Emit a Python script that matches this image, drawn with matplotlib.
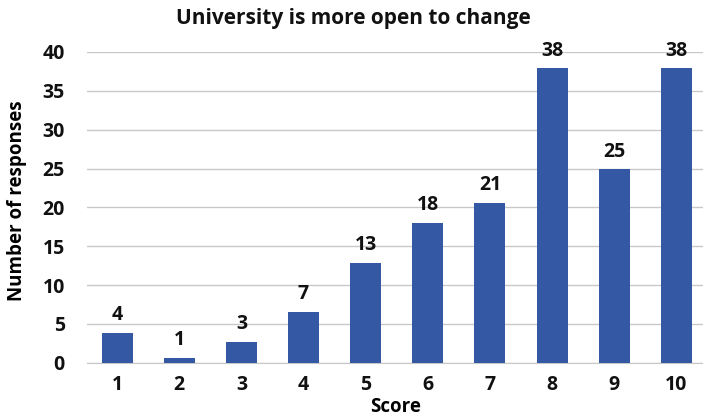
import matplotlib.pyplot as plt

scores = [1, 2, 3, 4, 5, 6, 7, 8, 9, 10]
responses = [4, 1, 3, 7, 13, 18, 21, 38, 25, 38]
bar_heights = [3.9, 0.6, 2.7, 6.6, 12.9, 18.0, 20.6, 37.9, 24.9, 37.9]
yticks = [0, 5, 10, 15, 20, 25, 30, 35, 40]

plt.rcParams['font.family'] = ['Open Sans', 'DejaVu Sans']
fig = plt.figure(figsize=(7.03, 4.19), dpi=100)
ax = fig.add_axes([0.124, 0.134, 0.876, 0.742])

bars = ax.bar(scores, bar_heights, width=0.5, color='#3558A5', zorder=3)
for x, h, v in zip(scores, bar_heights, responses):
    ax.text(x, h + 1.0, str(v), ha='center', va='bottom',
            fontsize=14, fontweight='bold', color='#111111')

ax.set_xlim(0.517, 10.43)
ax.set_ylim(0, 40)
ax.set_xticks(scores)
ax.set_yticks(yticks)
ax.tick_params(length=0, labelsize=14, colors='#111111', pad=9)
ax.tick_params(axis='y', pad=16)
for lab in ax.get_xticklabels() + ax.get_yticklabels():
    lab.set_fontweight('bold')
ax.yaxis.grid(True, color='#c8c8c8', lw=1, zorder=0)
ax.set_axisbelow(True)
for s in ['top', 'right', 'left']:
    ax.spines[s].set_visible(False)
ax.spines['bottom'].set_color('#c8c8c8')

ax.set_xlabel('Score', fontsize=13.5, fontweight='bold', labelpad=1)
ax.set_ylabel('Number of responses', fontsize=13.5, fontweight='bold')
ax.yaxis.set_label_coords(-0.097, 0.52)
fig.text(0.502, 0.956, 'University is more open to change', ha='center', va='center',
         fontsize=15, fontweight='bold', color='#111111')

fig.savefig('out.png', dpi=100)
